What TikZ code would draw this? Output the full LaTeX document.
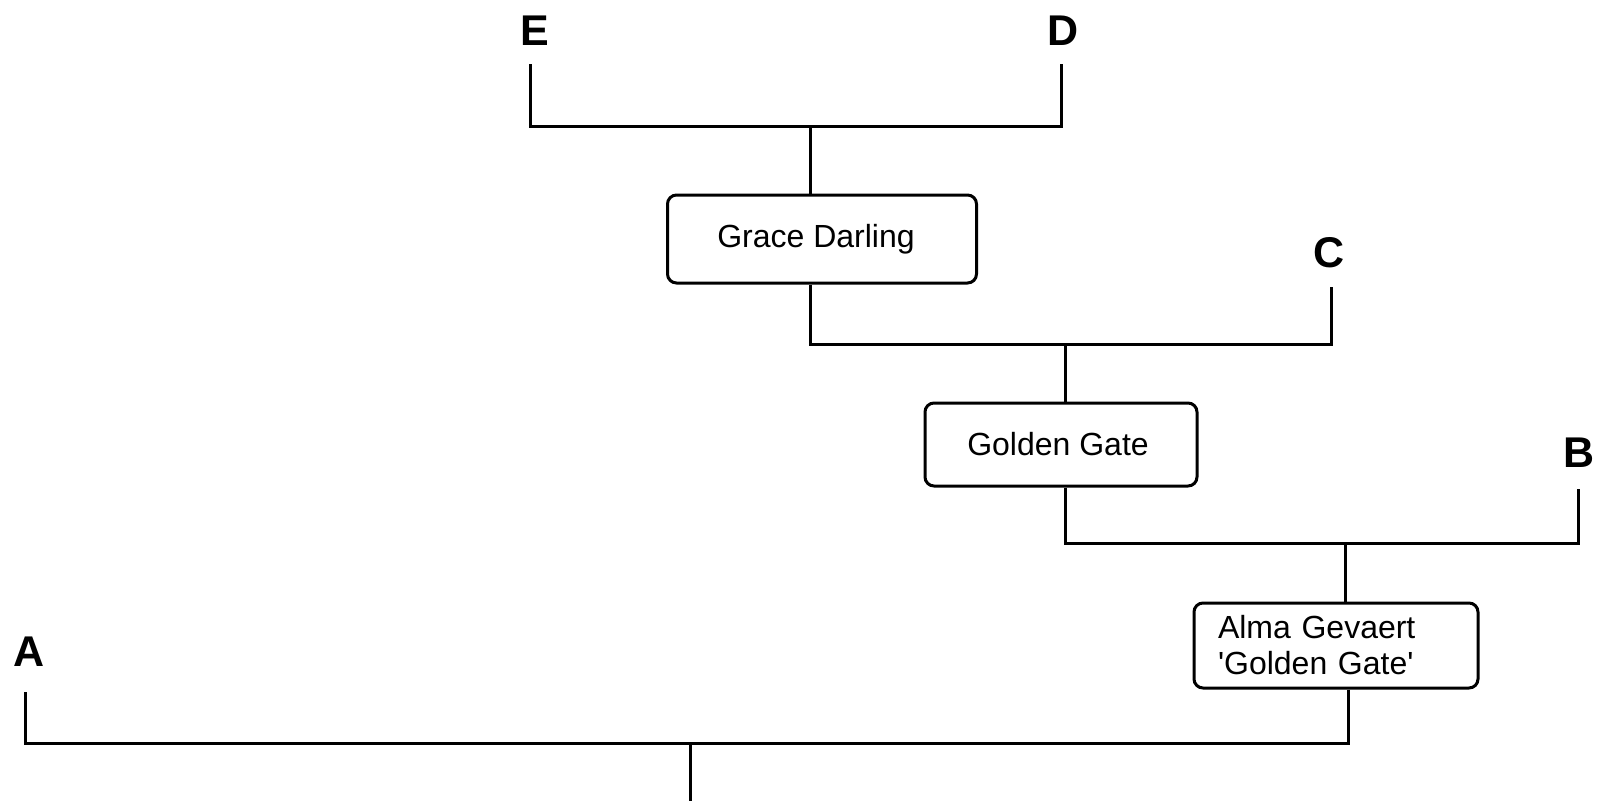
\documentclass[tikz,border=0pt]{standalone}
\usepackage{fontspec}
\setmainfont{Liberation Sans}
\newfontfamily\plainfont{Liberation Sans}
\begin{document}
\begin{tikzpicture}[x=1pt,y=-1pt,
  line width=3pt,
  lab/.style={font=\fontsize{43}{48}\selectfont\bfseries, inner sep=0pt},
  box/.style={draw, rounded corners=9pt, font=\plainfont\fontsize{32}{36}\selectfont, inner sep=0pt, line width=3pt},
  conn/.style={draw, line width=3pt}]
\useasboundingbox (0,0) rectangle (1598,801);
% labels
\node[lab] (E) at (535,31) {E};
\node[lab] (D) at (1063,31) {D};
\node[lab] (C) at (1329,253) {C};
\node[lab] (B) at (1579,453) {B};
\node[lab] (A) at (29,652) {A};
% line tops
\coordinate (Et) at (530,64);
\coordinate (Dt) at (1061,64);
\coordinate (Ct) at (1331,287);
\coordinate (Bt) at (1578,489);
\coordinate (At) at (25.5,692);
% boxes
\node[box, minimum width=309pt, minimum height=88pt] (gd) at (822,239) {Grace Darling\hspace*{12pt}};
\node[box, minimum width=272pt, minimum height=83pt] (gg) at (1061,444.5) {Golden Gate\hspace*{6pt}};
\node[box, minimum width=284pt, minimum height=85pt, text width=236pt, align=left, inner xsep=24pt] (al) at (1336,645.5) {Alma Gevaert\\'Golden Gate'};
% junctions
\coordinate (j1) at (810,126);
\coordinate (j2) at (1065,344);
\coordinate (j3) at (1345,543);
\coordinate (j4) at (690,743);
\coordinate (root) at (690,801);
% connectors
\draw[conn] (Et) -- (Et |- j1) -- (Dt |- j1) -- (Dt);
\draw[conn] (j1) -- (gd.north -| j1);
\draw[conn] (gd.south -| j1) -- (j1 |- j2) -- (Ct |- j2) -- (Ct);
\draw[conn] (j2) -- (gg.north -| j2);
\draw[conn] (gg.south -| j2) -- (j2 |- j3) -- (Bt |- j3) -- (Bt);
\draw[conn] (j3) -- (al.north -| j3);
\draw[conn] (al.south -| 1348,0) -- (1348,743) -- (At |- j4) -- (At);
\draw[conn] (j4) -- (root);
\end{tikzpicture}
\end{document}
